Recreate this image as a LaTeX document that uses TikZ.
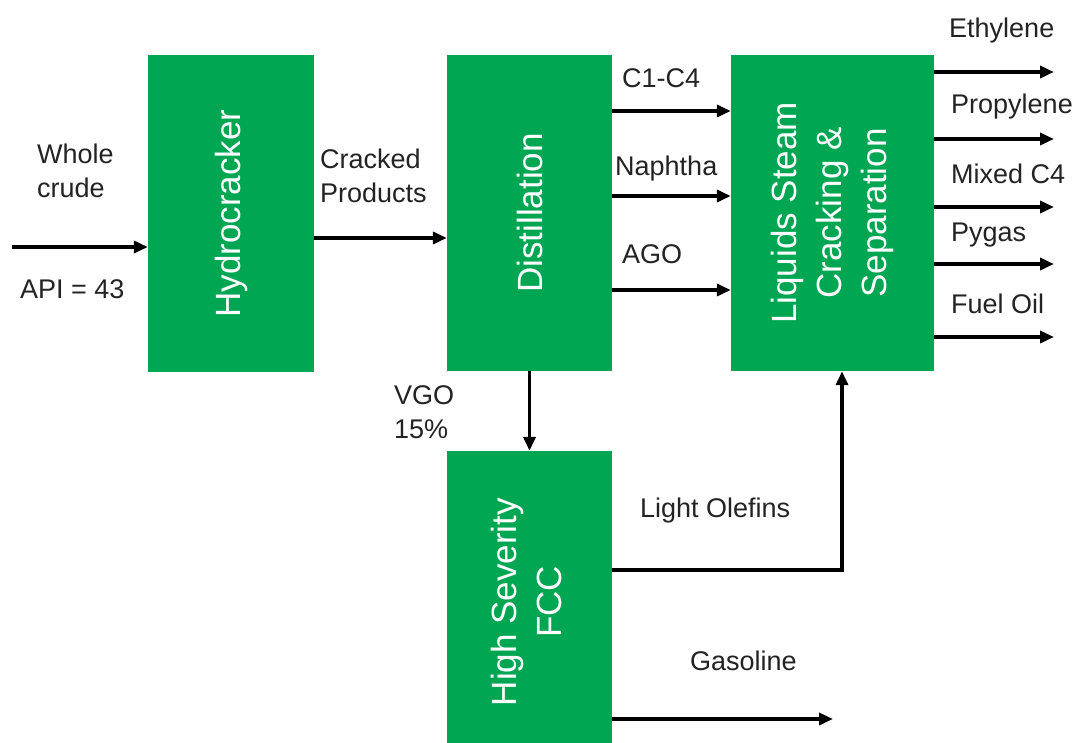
\documentclass[tikz,border=0pt]{standalone}
\usepackage{fontspec}
\setmainfont{Liberation Sans}
\usetikzlibrary{arrows.meta}
\definecolor{boxgreen}{RGB}{0,166,81}
\definecolor{txt}{RGB}{35,35,35}
\begin{document}
\begin{tikzpicture}[x=1pt,y=-1pt,
  procbox/.style={fill=boxgreen,draw=none,text=white,inner sep=0pt,
    font=\fontsize{35}{45}\selectfont},
  lbl/.style={anchor=base west,text=txt,inner sep=0pt,align=left,
    font=\fontsize{27}{34}\selectfont},
  arr/.style={draw=black,line width=3.5pt,-{Triangle[length=14pt,width=12pt]}}]
\useasboundingbox[fill=white] (0,0) rectangle (1078,742);
% boxes
\node[procbox,minimum width=166pt,minimum height=317pt] (hc) at (231,213.5) {\rotatebox{90}{Hydrocracker}};
\node[procbox,minimum width=165pt,minimum height=316pt] (dist) at (529.5,213) {\rotatebox{90}{Distillation}};
\node[procbox,minimum width=203pt,minimum height=316pt] (lsc) at (832.5,213) {\rotatebox{90}{\begin{tabular}{@{}c@{}}Liquids Steam\\Cracking \&\\Separation\end{tabular}}};
\node[procbox,minimum width=165pt,minimum height=302pt] (fcc) at (529.5,602) {\rotatebox{90}{\begin{tabular}{@{}c@{}}High Severity\\FCC\end{tabular}}};
% labels (base anchor of a multi-line label is its last line)
\node[lbl] (lwhole) at (37,197) {Whole\\crude};
\node[lbl] (lapi) at (20,298) {API = 43};
\node[lbl] (lcracked) at (320,202) {Cracked\\Products};
\node[lbl] (lc14) at (622,87) {C1-C4};
\node[lbl] (lnaph) at (615,175) {Naphtha};
\node[lbl] (lago) at (622,263) {AGO};
\node[lbl] (leth) at (949,37) {Ethylene};
\node[lbl] (lprop) at (951,113) {Propylene};
\node[lbl] (lmix) at (951,183) {Mixed C4};
\node[lbl] (lpyg) at (951,241) {Pygas};
\node[lbl] (lfuel) at (951,313) {Fuel Oil};
\node[lbl] (lvgo) at (394,438) {VGO\\15\%};
\node[lbl] (lolef) at (640,517) {Light Olefins};
\node[lbl] (lgas) at (690,670) {Gasoline};
% coordinates
\coordinate (in) at (12,247);
\coordinate (o1) at (1054,72);
\coordinate (o2) at (1054,139);
\coordinate (o3) at (1054,207);
\coordinate (o4) at (1054,264);
\coordinate (o5) at (1054,337);
\coordinate (gas) at (833,719);
% connectors
\draw[arr] (in) -- (in -| hc.west);
\draw[arr] (hc.east |- 0,238) -- (dist.west |- 0,238);
\draw[arr] (dist.east |- 0,111) -- (lsc.west |- 0,111);
\draw[arr] (dist.east |- 0,196) -- (lsc.west |- 0,196);
\draw[arr] (dist.east |- 0,290) -- (lsc.west |- 0,290);
\draw[arr] (lsc.east |- o1) -- (o1);
\draw[arr] (lsc.east |- o2) -- (o2);
\draw[arr] (lsc.east |- o3) -- (o3);
\draw[arr] (lsc.east |- o4) -- (o4);
\draw[arr] (lsc.east |- o5) -- (o5);
\draw[arr] (dist.south) -- (fcc.north);
\draw[arr,line width=4pt] (fcc.east |- 0,570) -| (lsc.south -| 842,0);
\draw[arr] (fcc.east |- gas) -- (gas);
\end{tikzpicture}
\end{document}
